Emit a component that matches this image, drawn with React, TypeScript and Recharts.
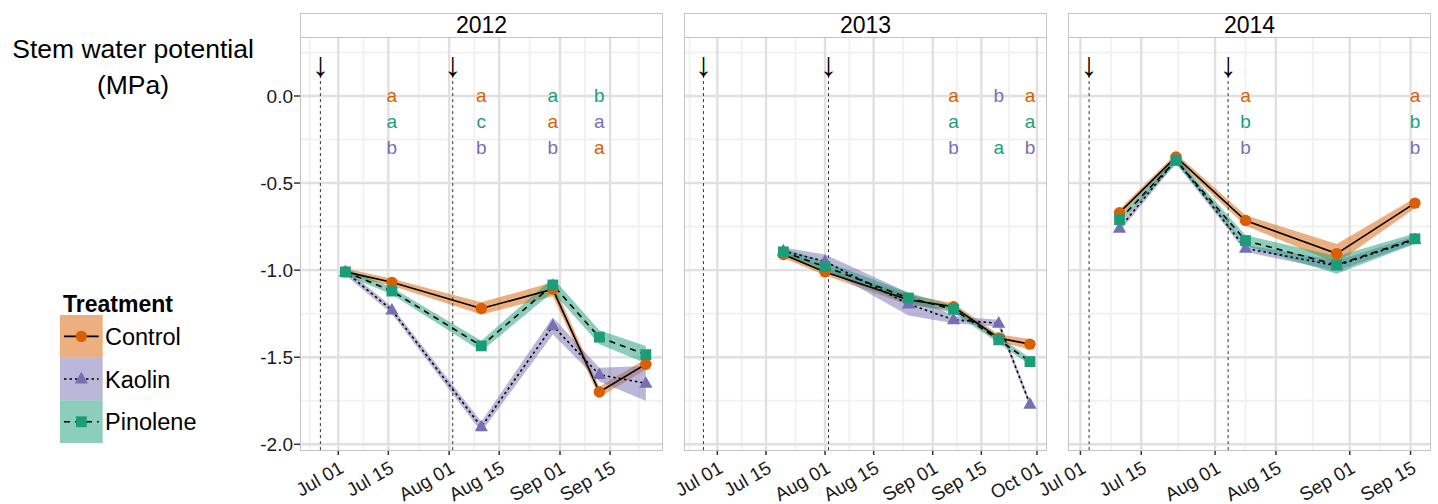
import React from "react";
import {
  ComposedChart,
  Area,
  Line,
  XAxis,
  YAxis,
  CartesianGrid,
  ReferenceLine,
  Scatter,
} from "recharts";

const W = 1438;
const H = 504;
const CHART_H = 600;
const FONT = '"Liberation Sans", Arial, Helvetica, sans-serif';

const COLORS: Record<string, string> = {
  Control: "#D95F02",
  Kaolin: "#7570B3",
  Pinolene: "#1B9E77",
};
const treatments = ["Control", "Kaolin", "Pinolene"];

// ---- 2012 ----
const dates2012 = ["2012-07-03", "2012-07-16", "2012-08-10", "2012-08-30", "2012-09-12", "2012-09-25"];
const control2012 = [-1.01, -1.07, -1.22, -1.11, -1.7, -1.54];
const kaolin2012 = [-1.01, -1.23, -1.9, -1.32, -1.6, -1.65];
const pinolene2012 = [-1.01, -1.12, -1.435, -1.085, -1.385, -1.485];
const controlSe2012 = [0.02, 0.02, 0.035, 0.04, 0.03, 0.03];
const kaolinSe2012 = [0.02, 0.02, 0.03, 0.05, 0.04, 0.1];
const pinoleneSe2012 = [0.02, 0.02, 0.03, 0.04, 0.04, 0.05];
const sprays2012 = ["2012-06-26", "2012-08-02"];
const letters2012: [string, [string, string][]][] = [
  ["2012-07-16", [["Control", "a"], ["Pinolene", "a"], ["Kaolin", "b"]]],
  ["2012-08-10", [["Control", "a"], ["Pinolene", "c"], ["Kaolin", "b"]]],
  ["2012-08-30", [["Pinolene", "a"], ["Control", "a"], ["Kaolin", "b"]]],
  ["2012-09-12", [["Pinolene", "b"], ["Kaolin", "a"], ["Control", "a"]]],
];

// ---- 2013 ----
const dates2013 = ["2013-07-20", "2013-08-01", "2013-08-25", "2013-09-07", "2013-09-20", "2013-09-29"];
const control2013 = [-0.91, -1.01, -1.17, -1.21, -1.39, -1.425];
const kaolin2013 = [-0.89, -0.95, -1.195, -1.285, -1.305, -1.77];
const pinolene2013 = [-0.895, -0.98, -1.16, -1.225, -1.4, -1.525];
const controlSe2013 = [0.02, 0.02, 0.03, 0.02, 0.02, 0.03];
const kaolinSe2013 = [0.02, 0.04, 0.065, 0.02, 0.02, 0.02];
const pinoleneSe2013 = [0.02, 0.03, 0.03, 0.02, 0.02, 0.02];
const sprays2013 = ["2013-06-27", "2013-08-02"];
const letters2013: [string, [string, string][]][] = [
  ["2013-09-07", [["Control", "a"], ["Pinolene", "a"], ["Kaolin", "b"]]],
  ["2013-09-20", [["Kaolin", "b"], ["", ""], ["Pinolene", "a"]]],
  ["2013-09-29", [["Control", "a"], ["Pinolene", "a"], ["Kaolin", "b"]]],
];

// ---- 2014 ----
const dates2014 = ["2014-07-10", "2014-07-23", "2014-08-08", "2014-08-29", "2014-09-16"];
const control2014 = [-0.67, -0.35, -0.715, -0.905, -0.615];
const kaolin2014 = [-0.76, -0.365, -0.875, -0.975, -0.825];
const pinolene2014 = [-0.71, -0.37, -0.83, -0.97, -0.82];
const controlSe2014 = [0.02, 0.02, 0.03, 0.055, 0.03];
const kaolinSe2014 = [0.02, 0.02, 0.02, 0.03, 0.02];
const pinoleneSe2014 = [0.02, 0.02, 0.03, 0.05, 0.03];
const sprays2014 = ["2014-07-03", "2014-08-04"];
const letters2014: [string, [string, string][]][] = [
  ["2014-08-08", [["Control", "a"], ["Pinolene", "b"], ["Kaolin", "b"]]],
  ["2014-09-16", [["Control", "a"], ["Pinolene", "b"], ["Kaolin", "b"]]],
];

// axis breaks
const majorDays = ["07-01", "07-15", "08-01", "08-15", "09-01", "09-15", "10-01"];
const breakDays = ["06-15", ...majorDays, "10-15"];
const Y_TICKS = [0, -0.5, -1, -1.5, -2];
const Y_MINOR = [0.25, -0.25, -0.75, -1.25, -1.75];
const LETTER_ROWS = [0, -0.15, -0.3];
const Y_DOMAIN: [number, number] = [-2.0385, 0.3388];
const MONTHS = ["Jan", "Feb", "Mar", "Apr", "May", "Jun", "Jul", "Aug", "Sep", "Oct", "Nov", "Dec"];

const day = (s: string) =>
  Date.UTC(+s.slice(0, 4), +s.slice(5, 7) - 1, +s.slice(8, 10)) / 864e5;

const fmtDay = (v: number) => {
  const d = new Date(Math.round(v) * 864e5);
  return `${MONTHS[d.getUTCMonth()]} ${String(d.getUTCDate()).padStart(2, "0")}`;
};

type PanelDef = {
  year: number;
  left: number;
  right: number;
  from: number;
  to: number;
  dates: string[];
  means: number[][];
  ses: number[][];
  sprays: string[];
  letters: [string, [string, string][]][];
};

const PLOT_TOP = 37;
const PLOT_BOTTOM = 451;

const panels: PanelDef[] = [
  {
    year: 2012, left: 300, right: 663, from: -10.7, to: 90.8,
    dates: dates2012,
    means: [control2012, kaolin2012, pinolene2012],
    ses: [controlSe2012, kaolinSe2012, pinoleneSe2012],
    sprays: sprays2012, letters: letters2012,
  },
  {
    year: 2013, left: 684, right: 1047, from: -9.6, to: 94.9,
    dates: dates2013,
    means: [control2013, kaolin2013, pinolene2013],
    ses: [controlSe2013, kaolinSe2013, pinoleneSe2013],
    sprays: sprays2013, letters: letters2013,
  },
  {
    year: 2014, left: 1068, right: 1431, from: -2.86, to: 80.7,
    dates: dates2014,
    means: [control2014, kaolin2014, pinolene2014],
    ses: [controlSe2014, kaolinSe2014, pinoleneSe2014],
    sprays: sprays2014, letters: letters2014,
  },
];

const lineDash: Record<string, string | undefined> = {
  Control: undefined,
  Kaolin: "2.5 3",
  Pinolene: "6 5",
};

function Marker({ t, cx, cy }: { t: string; cx: number; cy: number }) {
  const c = COLORS[t];
  if (t === "Control") return <circle cx={cx} cy={cy} r={5.7} fill={c} />;
  if (t === "Kaolin")
    return (
      <polygon
        points={`${cx},${cy - 7.2} ${cx - 6.6},${cy + 4.4} ${cx + 6.6},${cy + 4.4}`}
        fill={c}
      />
    );
  return <rect x={cx - 5.4} y={cy - 5.4} width={10.8} height={10.8} fill={c} />;
}

function Panel({ p, showY }: { p: PanelDef; showY: boolean }) {
  const jul1 = day(`${p.year}-07-01`);
  const domain: [number, number] = [jul1 + p.from, jul1 + p.to];
  const inDomain = (v: number) => v >= domain[0] && v <= domain[1];
  const ticks = majorDays.map((d) => day(`${p.year}-${d}`)).filter(inDomain);
  const breaks = breakDays.map((d) => day(`${p.year}-${d}`));
  const minorX = breaks
    .slice(1)
    .map((b, i) => (b + breaks[i]) / 2)
    .filter(inDomain);

  const rows = p.dates.map((d, i) => {
    const r: any = { x: day(d) };
    treatments.forEach((t, k) => {
      const m = p.means[k][i];
      const s = p.ses[k][i];
      r[t] = m;
      r[`${t}Band`] = [m - s, m + s];
    });
    return r;
  });

  const letterRows: any[] = [];
  p.letters.forEach(([d, marks]) => {
    marks.forEach(([t, l], r) => {
      if (!t) return;
      letterRows.push({ x: day(d), y: LETTER_ROWS[r], label: l, color: COLORS[t] });
    });
  });
  const arrowRows = p.sprays.map((s) => ({ x: day(s), y: 0.185 }));

  const yWidth = 60;
  const xHeight = 80;
  const margin = {
    top: PLOT_TOP,
    bottom: CHART_H - PLOT_BOTTOM - xHeight,
    left: showY ? p.left - yWidth : p.left,
    right: W - p.right,
  };

  return (
    <div style={{ position: "absolute", left: 0, top: 0 }}>
      <ComposedChart width={W} height={CHART_H} data={rows} margin={margin}>
        <CartesianGrid
          horizontalValues={Y_MINOR}
          verticalValues={minorX}
          stroke="#F2F2F2"
          strokeWidth={2}
        />
        <CartesianGrid
          horizontalValues={Y_TICKS}
          verticalValues={ticks}
          stroke="#E0E0E0"
          strokeWidth={2.4}
        />
        <XAxis
          dataKey="x"
          type="number"
          domain={domain}
          allowDataOverflow
          ticks={ticks}
          interval={0}
          height={xHeight}
          tickSize={4}
          tickMargin={5}
          angle={-30}
          axisLine={false}
          tickLine={{ stroke: "#333", strokeWidth: 1.5 }}
          tick={{ fontSize: 19, fill: "#1a1a1a", fontFamily: FONT, textAnchor: "end" }}
          tickFormatter={fmtDay}
        />
        <YAxis
          type="number"
          domain={Y_DOMAIN}
          allowDataOverflow
          ticks={Y_TICKS}
          hide={!showY}
          width={yWidth}
          tickSize={6}
          tickMargin={1}
          axisLine={false}
          tickLine={{ stroke: "#333", strokeWidth: 1.5 }}
          tick={{ fontSize: 19, fill: "#1a1a1a", fontFamily: FONT }}
          tickFormatter={(v: number) => v.toFixed(1)}
        />
        {treatments.map((t) => (
          <Area
            key={`band-${t}`}
            dataKey={`${t}Band`}
            type="linear"
            fill={COLORS[t]}
            fillOpacity={0.5}
            stroke="none"
            isAnimationActive={false}
            activeDot={false}
          />
        ))}
        {p.sprays.map((s) => (
          <ReferenceLine
            key={`spray-${s}`}
            segment={[
              { x: day(s), y: 0.12 },
              { x: day(s), y: Y_DOMAIN[0] },
            ]}
            stroke="#333"
            strokeWidth={1}
            strokeDasharray="3 3"
          />
        ))}
        {treatments.map((t) => (
          <Line
            key={`line-${t}`}
            dataKey={t}
            type="linear"
            stroke="#000"
            strokeWidth={1.6}
            strokeDasharray={lineDash[t]}
            dot={false}
            activeDot={false}
            isAnimationActive={false}
          />
        ))}
        {treatments.map((t) => (
          <Line
            key={`pts-${t}`}
            dataKey={t}
            stroke="none"
            dot={(d: any) => <Marker key={`${t}-${d.index}`} t={t} cx={d.cx} cy={d.cy} />}
            activeDot={false}
            isAnimationActive={false}
          />
        ))}
        <Scatter
          data={arrowRows}
          dataKey="y"
          fill="#000"
          isAnimationActive={false}
          shape={(d: any) => (
            <text
              x={d.cx}
              y={d.cy}
              dy="0.35em"
              textAnchor="middle"
              fontSize={34}
              fontFamily={FONT}
              style={{ fill: "#000", stroke: "none" }}
            >
              ↓
            </text>
          )}
        />
        <Scatter
          data={letterRows}
          dataKey="y"
          isAnimationActive={false}
          shape={(d: any) => (
            <text
              x={d.cx}
              y={d.cy}
              dy="0.3em"
              textAnchor="middle"
              fontSize={19}
              fontFamily={FONT}
              style={{ fill: d.payload.color, stroke: "none" }}
            >
              {d.payload.label}
            </text>
          )}
        />
      </ComposedChart>
    </div>
  );
}

function LegendBox() {
  const x0 = 60;
  const y0 = 315;
  const size = 42.7;
  return (
    <svg
      width={260}
      height={H}
      style={{ position: "absolute", left: 0, top: 0 }}
    >
      <text x={63} y={311.5} fontSize={23} fontWeight="bold" fontFamily={FONT} fill="#000">
        Treatment
      </text>
      {treatments.map((t, i) => {
        const y = y0 + i * size;
        const cy = y + size / 2;
        const cx = x0 + size / 2;
        return (
          <g key={t}>
            <rect x={x0} y={y} width={size} height={size} fill={COLORS[t]} fillOpacity={0.5} />
            <line
              x1={x0 + 4}
              x2={x0 + size - 4}
              y1={cy}
              y2={cy}
              stroke="#000"
              strokeWidth={1.6}
              strokeDasharray={lineDash[t]}
            />
            <Marker t={t} cx={cx} cy={cy} />
            <text x={105} y={cy} dy="0.36em" fontSize={23.5} fontFamily={FONT} fill="#000">
              {t}
            </text>
          </g>
        );
      })}
    </svg>
  );
}

export default function App() {
  return (
    <div
      style={{
        position: "absolute",
        left: 0,
        top: 0,
        width: W,
        height: H,
        background: "#fff",
        fontFamily: FONT,
        overflow: "hidden",
      }}
    >
      {panels.map((p, i) => (
        <Panel key={p.year} p={p} showY={i === 0} />
      ))}
      {panels.map((p) => (
        <React.Fragment key={`frame-${p.year}`}>
          <div
            style={{
              position: "absolute",
              left: p.left,
              top: 13,
              width: p.right - p.left,
              height: PLOT_TOP - 13 + 1,
              boxSizing: "border-box",
              border: "1px solid #C4C4C4",
              background: "#fff",
              textAlign: "center",
              fontSize: 23,
              lineHeight: "23px",
              color: "#000",
            }}
          >
            {p.year}
          </div>
          <div
            style={{
              position: "absolute",
              left: p.left,
              top: PLOT_TOP,
              width: p.right - p.left,
              height: PLOT_BOTTOM - PLOT_TOP,
              boxSizing: "border-box",
              border: "1px solid #C4C4C4",
              pointerEvents: "none",
            }}
          />
        </React.Fragment>
      ))}
      <div
        style={{
          position: "absolute",
          left: 0,
          top: 31,
          width: 266,
          textAlign: "center",
          fontSize: 26.5,
          lineHeight: "36px",
          color: "#000",
        }}
      >
        Stem water potential
        <br />
        (MPa)
      </div>
      <LegendBox />
    </div>
  );
}
